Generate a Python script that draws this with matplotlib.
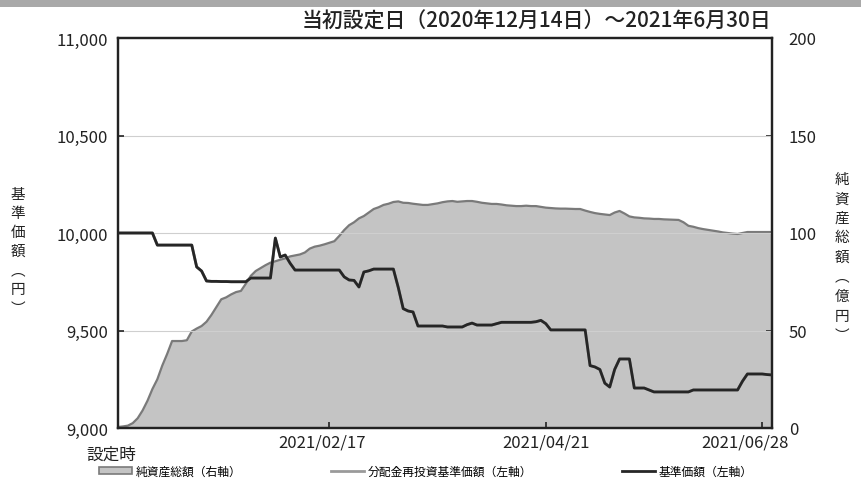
import numpy as np
import pandas as pd
import matplotlib
matplotlib.use("Agg")
import matplotlib.pyplot as plt
from matplotlib.patches import Patch, Rectangle
from matplotlib.lines import Line2D
import matplotlib.transforms as mtransforms

plt.rcParams['font.family'] = ['Noto Sans CJK JP', 'DejaVu Sans']

# ---- data ----
holidays = ["2020-12-31", "2021-01-01", "2021-01-11", "2021-02-11", "2021-02-23",
            "2021-04-29", "2021-05-03", "2021-05-04", "2021-05-05"]
dates = pd.bdate_range("2020-12-14", "2021-06-30")
dates = dates[~dates.isin(pd.to_datetime(holidays))]

nav = [10000] * 8 + [9938] * 8 + [9826, 9805, 9754] + [9752, 9752, 9751, 9751, 9750, 9750, 9750, 9750] \
    + [9769] * 5 + [9974, 9877, 9887, 9845] + [9810] * 10 \
    + [9775, 9759, 9757, 9723, 9800, 9806] + [9815] * 5 \
    + [9720, 9612, 9600, 9595] + [9523] * 6 + [9518] * 4 \
    + [9530, 9538, 9528, 9528, 9528, 9528, 9535] + [9542] * 7 \
    + [9545, 9552, 9535] + [9503] * 8 \
    + [9320, 9313, 9300, 9230, 9210, 9300, 9354, 9354, 9354, 9205, 9205, 9205, 9195] \
    + [9185] * 8 + [9195] * 10 + [9240] + [9277] * 4 + [9274, 9272]

reinvested_nav = list(nav)  # no distributions: identical to nav

net_assets = [0.5, 0.8, 1.2, 2.5, 5, 9, 14, 20, 25, 32, 38, 44.6, 44.6, 44.6, 45, 49.5,
              51, 52.3, 54.5, 58, 62, 66, 67, 68.5, 69.7, 70.3, 74, 78, 80.5, 82, 83.5,
              84.8, 85.5, 86.3, 87, 88, 88.5, 89, 90, 92, 93, 93.5, 94.2, 95, 95.8, 98.5,
              101.5, 104, 105.5, 107.5, 108.7, 110.5, 112.3, 113.2, 114.4, 115, 115.9,
              116.2, 115.5, 115.4, 115, 114.7, 114.4, 114.4, 114.8, 115.2, 115.8, 116.2,
              116.4, 116, 116.2, 116.4, 116.4, 116, 115.5, 115.2, 114.9, 114.9, 114.6,
              114.2, 114, 113.8, 113.8, 114, 113.8, 113.8, 113.4, 113, 112.8, 112.6,
              112.5, 112.5, 112.4, 112.3, 112.3, 111.5, 110.8, 110.2, 109.8, 109.5, 109.2,
              110.5, 111.3, 110, 108.5, 108, 107.8, 107.5, 107.4, 107.2, 107.2, 107,
              106.9, 106.8, 106.7, 105.5, 103.7, 103.2, 102.5, 102, 101.6, 101.2, 100.8,
              100.3, 100, 99.7, 99.5, 100, 100.5, 100.5, 100.5, 100.5, 100.5, 100.5]

tick_dates = ["2021-02-17", "2021-04-21", "2021-06-28"]
left_ticks = [9000, 9500, 10000, 10500, 11000]
right_ticks = [0, 50, 100, 150, 200]

title = "当初設定日（2020年12月14日）～2021年6月30日"
left_label = ["基", "準", "価", "額", "︵", "円", "︶"]
right_label = ["純", "資", "産", "総", "額", "︵", "億", "円", "︶"]
legend_labels = ["純資産総額（右軸）", "分配金再投資基準価額（左軸）", "基準価額（左軸）"]

# ---- figure ----
fig = plt.figure(figsize=(8.61, 4.85), dpi=100)
fig.patch.set_facecolor("white")
fig.add_artist(Rectangle((0, 1 - 8 / 485), 1, 8 / 485, transform=fig.transFigure,
                         facecolor="#a9a9a9", edgecolor="none"))

ax = fig.add_axes([118 / 861, 1 - 429 / 485, (772 - 118) / 861, (429 - 39) / 485])
ax2 = ax.twinx()
ax.set_zorder(ax2.get_zorder() + 1)
ax.patch.set_visible(False)
ax2.patch.set_facecolor("#fbfbfb")

x = np.arange(len(dates))

ax2.fill_between(x, 0, net_assets, facecolor="#c4c4c4", edgecolor="none", zorder=1)
ax2.plot(x, net_assets, color="#7a7a7a", lw=1.6, zorder=2)
ax2.set_ylim(0, 200)
ax2.set_yticks(right_ticks)

for v in left_ticks[1:-1]:
    ax.axhline(v, color="#cfcfcf", lw=0.8, zorder=0.5)
ax.plot(x, reinvested_nav, color="#9a9a9a", lw=2.0, zorder=2)
ax.plot(x, nav, color="#262626", lw=2.0, zorder=3)
ax.set_ylim(9000, 11000)
ax.set_xlim(0, len(dates) - 1)
ax.set_yticks(left_ticks)
ax.set_yticklabels([f"{v:,}" for v in left_ticks])

tick_pos = [0] + [int(dates.get_loc(pd.Timestamp(d))) for d in tick_dates]
tick_lab = ["設定時"] + [pd.Timestamp(d).strftime("%Y/%m/%d") for d in tick_dates]
ax.set_xticks(tick_pos)
ax.set_xticklabels(tick_lab)

for a in (ax, ax2):
    a.tick_params(direction="in", length=4, width=1.2, colors="#222222", labelsize=12)
    for s in a.spines.values():
        s.set_linewidth(1.6)
        s.set_color("#222222")
ax.tick_params(axis="y", pad=7)
ax2.tick_params(axis="y", pad=12)
ax.tick_params(axis="x", pad=4)

offsets = [(-5, -9), (-5, 0), (0, 0), (-12, 0)]
for lab, (dx, dy) in zip(ax.get_xticklabels(), offsets):
    lab.set_transform(lab.get_transform() + mtransforms.ScaledTranslation(dx / 72, dy / 72, fig.dpi_scale_trans))

fig.text(771 / 861, 1 - 22 / 485, title, ha="right", va="center", fontsize=15, color="#222222",
         fontweight="medium")
fig.text(18 / 861, 1 - 252 / 485, "\n".join(left_label),
         ha="center", va="center", fontsize=10.5, linespacing=1.45, color="#222222")
fig.text(842 / 861, 1 - 258 / 485, "\n".join(right_label),
         ha="center", va="center", fontsize=10.5, linespacing=1.5, color="#222222")

handles = [Patch(facecolor="#c4c4c4", edgecolor="#7a7a7a", lw=1.2),
           Line2D([], [], color="#9a9a9a", lw=2),
           Line2D([], [], color="#262626", lw=2)]
fig.legend(handles, legend_labels, ncol=3, loc="center", bbox_to_anchor=(426 / 861, 1 - 472 / 485),
           frameon=False, fontsize=8.5, columnspacing=7.6, handlelength=2.8, handletextpad=0.3,
           handleheight=0.6)

fig.savefig("out.png", dpi=100, facecolor="white")
